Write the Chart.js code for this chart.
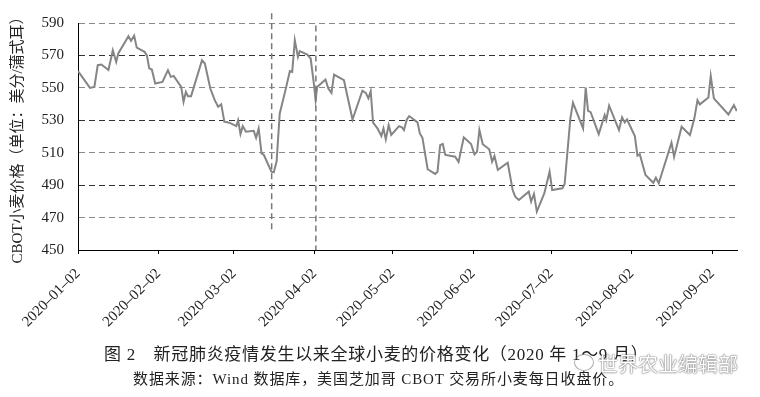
<!DOCTYPE html>
<html>
<head>
<meta charset="utf-8">
<script src="https://cdn.jsdelivr.net/npm/chart.js@4.4.0/dist/chart.umd.min.js"></script>
<style>
html, body { margin: 0; padding: 0; background: #fff; }
#wrap { position: relative; width: 760px; height: 397px; overflow: hidden; }
#chart { position: absolute; left: 0; top: 0; }
.cap1 { position: absolute; left: 104px; top: 340px; font-size: 17px; letter-spacing: 0.7px; }
.cap2 { position: absolute; left: 133px; top: 367px; font-size: 15px; letter-spacing: 0.9px; }
.cap1, .cap2 { font-family: "Liberation Serif", "Noto Sans CJK SC", serif; color: #222; white-space: nowrap; }
.mark { position: absolute; left: 598px; top: 349px; font: 20px "Noto Sans CJK SC", sans-serif; color: #fff;
        text-shadow: 0 0 1px #555, 0 0 2px #777; white-space: nowrap; }
.logo { position: absolute; left: 574px; top: 354px; width: 18px; height: 15px; border: 1.5px solid rgba(120,120,120,0.6);
        border-radius: 50%; }
</style>
</head>
<body>
<div id="wrap">
  <canvas id="chart" width="760" height="397"></canvas>
  <div class="cap1">图 2　新冠肺炎疫情发生以来全球小麦的价格变化（2020 年 1～9 月）</div>
  <div class="cap2">数据来源：Wind 数据库，美国芝加哥 CBOT 交易所小麦每日收盘价。</div>
  <div class="logo"></div>
  <div class="mark">世界农业编辑部</div>
</div>
<script>
// Dati: giorni dal 2020-01-02 e prezzo CBOT (centesimi/bushel)
const dayOffsets = [
  0, 4.6, 6.3, 7.6, 9, 11.7, 13.4, 14.7, 15.5, 19.4, 20.4, 21.6, 22.6, 25.6, 26.5, 27.4, 28.4, 29.7,
  32.5, 34.6, 35.7, 36.8, 39.7, 40.6, 41.5, 42.3, 43.5, 47.7, 48.8, 50.9, 52.6, 53.9, 55.1, 56.3,
  58.2, 60.9, 61.6, 62.5, 63.4, 64.6, 67.6, 68.5, 69.5, 70.6, 71.5, 74.4, 75.3, 76.4, 77.6, 79.8,
  81.5, 82.4, 83.4, 84.6, 85.3, 88.2, 89.5, 90.8, 91.4, 92, 95.2, 96.3, 97.5, 98.5, 102.3, 105.6,
  109.4, 110.7, 111.7, 112.6, 113.5, 115.2, 116.7, 117.5, 118.4, 119.5, 120.5, 123.5, 124.6, 125.4,
  126.5, 127.4, 130.6, 131.5, 132.5, 134.5, 137.4, 138.3, 139.3, 140.3, 141.3, 145.1, 146.4, 148.4,
  151.2, 152.5, 153.5, 154.4, 155.7, 158.2, 159.3, 160.2, 161.5, 165.3, 167.2, 168.2, 169.6, 173.4,
  174.3, 175.4, 176.5, 179.4, 181.4, 182.4, 186.3, 187.2, 189.4, 190.4, 194.3, 195.3, 196.2, 197.2,
  200.3, 202.6, 203.2, 204.3, 208.1, 209.3, 210.3, 211.2, 214.2, 215.2, 216.1, 218.3, 221.3, 222.3,
  223.4, 228.3, 229.3, 232.2, 235.4, 237.1, 238.3, 239.2, 242.5, 243.4, 244.6, 250.2, 252.3, 253.4
];
const prices = [
  560.3, 550, 550.6, 564, 564.4, 561, 573.2, 566, 571.2, 581.8, 579, 582.2, 574.8, 572.2, 570, 562, 561.3, 552.7,
  553.7, 560.9, 556.8, 557.4, 550.6, 541.4, 547.5, 544.9, 544.9, 567, 565, 549.6, 542.4, 538.3, 539.8, 529.1,
  528.5, 526.4, 530, 521.5, 526.4, 523, 523.5, 519.2, 525, 509.6, 508.6, 498.3, 497.9, 504.5, 534.2, 548.6,
  560.3, 559.8, 579.4, 569.1, 572.6, 570.5, 568.1, 551.7, 542.4, 550.6, 555.2, 549.6, 546.9, 558.2, 554.7, 530.5,
  548.2, 546.9, 543.5, 548, 528.5, 525, 520.3, 525, 518.2, 527, 521, 526.4, 525.6, 524,
  530.5, 532.6, 528.7, 521.9, 519.2, 499.8, 496.9, 498.3, 514.7, 515.4, 508.6, 507.5, 504.3, 519.5,
  515.4, 509, 510.6, 524, 515.2, 512.1, 504.5, 508, 499.4, 503.8, 487, 482.9, 480.9, 486,
  479.9, 484.6, 473.7, 485, 498.3, 487, 488.1, 490.7, 531.2, 540.8, 525, 550.2, 535.8, 535,
  521.5, 533.2, 530.1, 539, 524, 531.8, 528.7, 530.5, 520.3, 508.2, 509, 496.3, 491.5, 494.6,
  491.2, 516.2, 507.5, 526, 520.9, 531.2, 542.4, 539.8, 544.1, 557.4, 543.5, 533.6, 539.4, 535.7
];

// Etichette asse x (2 di ogni mese)
const tickDays = [0, 31, 60, 91, 121, 152, 182, 213, 244];
const tickLabels = ['2020–01–02', '2020–02–02', '2020–03–02', '2020–04–02', '2020–05–02',
                    '2020–06–02', '2020–07–02', '2020–08–02', '2020–09–02'];
const yTicks = [450, 470, 490, 510, 530, 550, 570, 590];
const yTitle = 'CBOT小麦价格（单位：美分/蒲式耳）';

// Linee verticali tratteggiate (eventi)
const eventDays = [74.5, 91.5];
const eventTop = [596, 588.5];
const eventBottom = [462, 450];

const serif = '"Liberation Serif", "Noto Sans CJK SC", serif';

// Plugin per le linee verticali
const eventLines = {
  id: 'eventLines',
  afterDatasetsDraw(chart) {
    const { ctx, scales: { x, y } } = chart;
    ctx.save();
    ctx.strokeStyle = '#777';
    ctx.lineWidth = 1.5;
    ctx.setLineDash([6, 4]);
    eventDays.forEach((d, i) => {
      const px = x.getPixelForValue(d);
      ctx.beginPath();
      ctx.moveTo(px, y.getPixelForValue(eventTop[i]));
      ctx.lineTo(px, y.getPixelForValue(eventBottom[i]));
      ctx.stroke();
    });
    ctx.restore();
  }
};

const ctx = document.getElementById('chart').getContext('2d');
new Chart(ctx, {
  type: 'line',
  data: {
    datasets: [{
      data: dayOffsets.map((d, i) => ({ x: d, y: prices[i] })),
      borderColor: '#858585',
      borderWidth: 2,
      pointRadius: 0,
      tension: 0,
      fill: false
    }]
  },
  options: {
    responsive: false,
    animation: false,
    layout: { padding: { top: 22, right: 23, bottom: 65, left: 0 } },
    plugins: { legend: { display: false }, tooltip: { enabled: false } },
    scales: {
      x: {
        type: 'linear',
        min: 0,
        max: 253.5,
        afterBuildTicks: s => { s.ticks = tickDays.map(v => ({ value: v })); },
        afterFit: s => { s.height = 82; },
        ticks: {
          autoSkip: false,
          maxRotation: 45,
          minRotation: 45,
          padding: 11,
          color: '#222',
          font: { family: serif, size: 15 },
          callback: (v, i) => tickLabels[i]
        },
        grid: { drawOnChartArea: false, tickLength: 4, color: '#000' },
        border: { color: '#000', width: 1 }
      },
      y: {
        min: 450,
        max: 590,
        afterBuildTicks: s => { s.ticks = yTicks.map(v => ({ value: v })); },
        afterFit: s => { s.width = 78; },
        ticks: { padding: 14, color: '#222', font: { family: serif, size: 15 } },
        grid: {
          drawTicks: false,
          lineWidth: 1,
          color: c => {
            const v = c.tick ? c.tick.value : 0;
            if (v === 450) return 'rgba(0,0,0,0)';
            return ((v - 450) / 20) % 2 ? '#8a8a8a' : '#333';
          }
        },
        border: { color: '#000', width: 1, dash: [6, 4] },
        title: {
          display: true,
          text: yTitle,
          color: '#222',
          font: { family: serif, size: 15 },
          padding: { top: 9, bottom: 0 }
        }
      }
    }
  },
  plugins: [eventLines]
});
</script>
</body>
</html>
